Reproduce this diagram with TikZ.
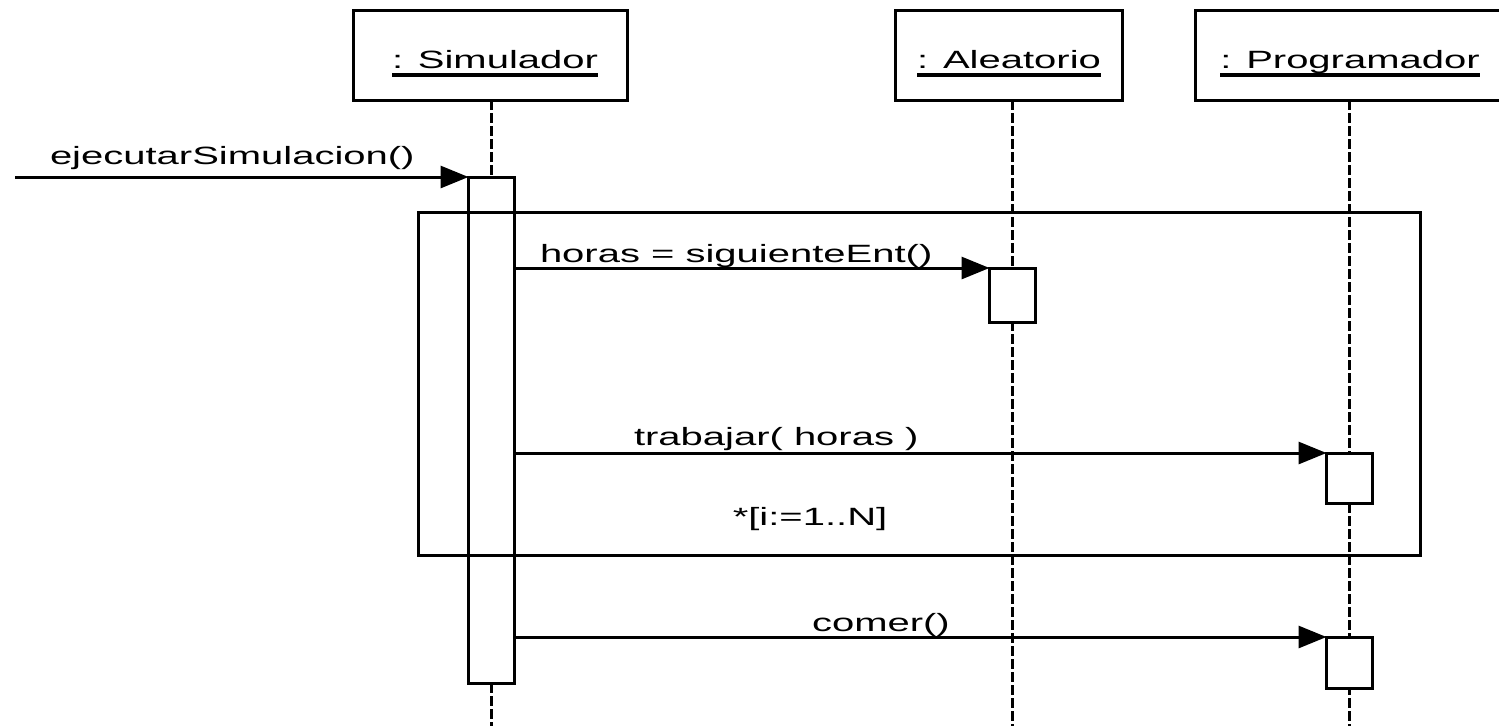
\documentclass[tikz,border=0pt]{standalone}
\usepackage{fontspec}
\setmainfont{Liberation Sans}
\usetikzlibrary{arrows.meta}
\newcommand\sx[1]{\scalebox{1.6}[1]{#1}}
\newcommand\objname[1]{\setbox0\hbox{#1}\rlap{\rule[-9pt]{\wd0}{4pt}}\box0}
\begin{document}
\begin{tikzpicture}[x=1pt,y=-1pt,
  every node/.style={font=\fontsize{25}{30}\selectfont, inner sep=0pt, outer sep=0pt},
  headbox/.style={draw, line width=3pt, minimum width=#1, minimum height=90pt},
  actbox/.style={draw, line width=3pt, fill=white, minimum width=46pt, minimum height=#1},
  life/.style={line width=3pt, dash pattern=on 10pt off 3pt},
  msg/.style={line width=3pt, -{Triangle[length=28pt,width=22pt]}},
  loopframe/.style={draw, line width=3pt, minimum width=1002pt, minimum height=343pt},
  lbl/.style={anchor=base west}]
\useasboundingbox (0,0) rectangle (1499,726);
\coordinate (bot) at (0,726);
\coordinate (start) at (15,177);

% heads
\node[headbox=274pt] (simh) at (490,55) {};
\node[headbox=227pt] (aleh) at (1008.5,55) {};
\node[headbox=310pt] (proh) at (1350,55) {};
\node[anchor=base] (simt) at (495,68) {\sx{\objname{: Simulador}}};
\node[anchor=base] (alet) at (1009,68) {\sx{\objname{: Aleatorio}}};
\node[anchor=base] (prot) at (1350,68) {\sx{\objname{: Programador}}};

% activation boxes (positions only)
\path (491.5,430) coordinate (simc);
\path (1012.5,295) coordinate (alec);
\path (1349.5,478) coordinate (pro1c);
\path (1349.5,662.5) coordinate (pro2c);

% lifelines
\draw[life] (simh.south -| simc) -- (simc |- start);
\draw[life] (simc |- 0,683) -- (simc |- bot);
\draw[life] (aleh.south -| alec) -- (alec |- bot);
\draw[life] (proh.south -| pro1c) -- (pro1c |- bot);

% activations
\node[actbox=506pt] (sima) at (simc) {};
\node[actbox=54pt] (alea) at (alec) {};
\node[actbox=50pt] (proa1) at (pro1c) {};
\node[actbox=51pt] (proa2) at (pro2c) {};

% loop frame
\node[loopframe] (loop) at (919,383.5) {};

% messages
\draw[msg] (start) -- (sima.north west);
\draw[msg] (sima.east |- alea.north) -- (alea.north west);
\draw[msg] (sima.east |- proa1.north) -- (proa1.north west);
\draw[msg] (sima.east |- proa2.north) -- (proa2.north west);

% labels
\node[lbl] (l1) at (50,164) {\sx{ejecutarSimulacion()}};
\node[lbl] (l2) at (540,262) {\sx{horas = siguienteEnt()}};
\node[lbl] (l3) at (634,445) {\sx{trabajar( horas )}};
\node[anchor=base] (l4) at (810,525) {\sx{*[i:=1..N]}};
\node[lbl] (l5) at (812,631) {\sx{comer()}};
\end{tikzpicture}
\end{document}
